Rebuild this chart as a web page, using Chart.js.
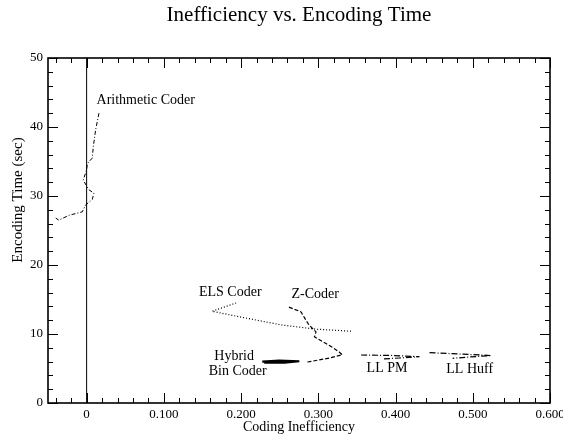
<!DOCTYPE html>
<html>
<head>
<meta charset="utf-8">
<script src="https://cdn.jsdelivr.net/npm/chart.js@4"></script>
<style>
  html, body { margin: 0; padding: 0; background: #fff; }
  #wrap { width: 563px; height: 438px; }
</style>
</head>
<body>
<div id="wrap"><canvas id="c" width="563" height="438"></canvas></div>
<script>
// ---- Data ----
const xTickValues = [0, 0.1, 0.2, 0.3, 0.4, 0.5, 0.6];
const yTickValues = [0, 10, 20, 30, 40, 50];

const arithX = [0.016, 0.0117, 0.0086, 0.0073, 0.001, 0.0, -0.0044, 0.003, 0.0095, 0.0073, -0.0013, -0.0057, -0.023, -0.036, -0.040];
const arithY = [42.0, 39.6, 37.1, 35.5, 34.7, 33.8, 32.3, 30.9, 30.4, 29.5, 28.7, 27.7, 27.2, 26.5, 26.8];

const elsX = [0.1936, 0.178, 0.1625, 0.1975, 0.253, 0.297, 0.343];
const elsY = [14.5, 13.9, 13.3, 12.5, 11.3, 10.7, 10.4];

const zX = [0.262, 0.2776, 0.284, 0.288, 0.297, 0.295, 0.3056, 0.3165, 0.327, 0.331, 0.314, 0.299, 0.284];
const zY = [13.9, 13.2, 12.0, 11.3, 10.3, 9.6, 8.9, 8.2, 7.4, 7.0, 6.5, 6.2, 5.9];

const hybridX = [0.2274, 0.2495, 0.2754, 0.256, 0.2300];
const hybridY = [6.0, 6.15, 6.05, 5.85, 5.85];

const llpmX = [0.3554, 0.3986, 0.431, 0.405, 0.383];
const llpmY = [6.96, 6.88, 6.71, 6.52, 6.38];

const llhuffX = [0.444, 0.483, 0.524, 0.496, 0.474];
const llhuffY = [7.29, 7.10, 6.88, 6.67, 6.48];

const zeroLineX = [0, 0];
const zeroLineY = [0, 50];

const labelTexts = ['Arithmetic Coder', 'ELS Coder', 'Z-Coder', 'Hybrid', 'Bin Coder', 'LL PM', 'LL Huff'];
const labelX = [0.0765, 0.186, 0.296, 0.191, 0.1956, 0.389, 0.496];
const labelY = [43.8, 16.1, 15.8, 6.8, 4.57, 5.07, 4.93];

const titleText = 'Inefficiency vs. Encoding Time';
const xTitleText = 'Coding Inefficiency';
const yTitleText = 'Encoding Time (sec)';

// ---- Helpers ----
const pts = (xs, ys) => xs.map((v, i) => ({ x: v, y: ys[i] }));
const SERIF = '"Liberation Serif", "DejaVu Serif", serif';

function line(data, dash, width) {
  return {
    data: data,
    showLine: true,
    borderColor: '#000',
    backgroundColor: '#000',
    borderWidth: width,
    borderDash: dash,
    pointRadius: 0,
    pointHoverRadius: 0,
    tension: 0,
    fill: false
  };
}

const decor = {
  id: 'decor',
  afterDatasetsDraw(chart) {
    const { ctx, chartArea: a, scales: { x, y } } = chart;
    ctx.save();
    ctx.strokeStyle = '#000';
    ctx.lineWidth = 1;
    // x ticks (major every 0.1, minor every 0.02), inward on bottom and top
    for (let i = -2; i <= 30; i++) {
      const v = i * 0.02;
      const px = Math.round(x.getPixelForValue(v)) + 0.5;
      if (px < a.left || px > a.right + 1) continue;
      const len = (i % 5 === 0) ? 10 : 5;
      ctx.beginPath();
      ctx.moveTo(px, a.bottom); ctx.lineTo(px, a.bottom - len);
      ctx.moveTo(px, a.top); ctx.lineTo(px, a.top + len);
      ctx.stroke();
    }
    // y ticks (major every 10, minor every 2)
    for (let i = 0; i <= 25; i++) {
      const v = i * 2;
      const py = Math.round(y.getPixelForValue(v)) + 0.5;
      const len = (i % 5 === 0) ? 10 : 5;
      ctx.beginPath();
      ctx.moveTo(a.left, py); ctx.lineTo(a.left + len, py);
      ctx.moveTo(a.right, py); ctx.lineTo(a.right - len, py);
      ctx.stroke();
    }
    // frame
    ctx.lineWidth = 1.6;
    ctx.strokeRect(a.left, a.top, a.right - a.left, a.bottom - a.top);
    ctx.restore();
  },
  afterDraw(chart) {
    const { ctx, chartArea: a, scales: { x, y } } = chart;
    ctx.save();
    ctx.fillStyle = '#000';
    ctx.textAlign = 'center';
    ctx.textBaseline = 'middle';
    // annotation labels
    ctx.font = '14px ' + SERIF;
    labelTexts.forEach((t, i) => {
      ctx.fillText(t, x.getPixelForValue(labelX[i]), y.getPixelForValue(labelY[i]));
    });
    // chart title
    ctx.font = '21px ' + SERIF;
    ctx.fillText(titleText, (a.left + a.right) / 2, 15);
    // axis titles
    ctx.font = '14px ' + SERIF;
    ctx.fillText(xTitleText, (a.left + a.right) / 2, 427);
    ctx.font = '15px ' + SERIF;
    ctx.translate(18, 200);
    ctx.rotate(-Math.PI / 2);
    ctx.fillText(yTitleText, 0, 0);
    ctx.restore();
  }
};

new Chart(document.getElementById('c'), {
  type: 'scatter',
  data: {
    datasets: [
      line(pts(zeroLineX, zeroLineY), [], 1),
      line(pts(arithX, arithY), [4, 2, 1, 2], 1),
      line(pts(elsX, elsY), [1, 2], 1.2),
      line(pts(zX, zY), [4, 2], 1.2),
      line(pts(hybridX, hybridY), [], 2.2),
      line(pts(llpmX, llpmY), [6, 2, 1, 2], 1.2),
      line(pts(llhuffX, llhuffY), [6, 2, 1, 2], 1.2)
    ]
  },
  options: {
    responsive: false,
    animation: false,
    devicePixelRatio: 1,
    layout: { padding: { left: 0, right: 13, top: 58, bottom: 0 } },
    plugins: { legend: { display: false }, title: { display: false }, tooltip: { enabled: false } },
    events: [],
    scales: {
      x: {
        type: 'linear',
        min: -0.05,
        max: 0.6,
        grid: { display: false, drawTicks: false },
        border: { display: false },
        afterBuildTicks: (s) => { s.ticks = xTickValues.map(v => ({ value: v })); },
        afterFit: (s) => { s.height = 35; s.paddingLeft = 0; s.paddingRight = 0; },
        ticks: {
          color: '#000',
          padding: 4,
          maxRotation: 0,
          autoSkip: false,
          font: { family: SERIF, size: 13 },
          callback: (v) => (Math.abs(v) < 1e-9 ? '0' : Number(v).toFixed(3))
        }
      },
      y: {
        type: 'linear',
        min: 0,
        max: 50,
        grid: { display: false, drawTicks: false },
        border: { display: false },
        afterBuildTicks: (s) => { s.ticks = yTickValues.map(v => ({ value: v })); },
        afterFit: (s) => { s.width = 48; s.paddingTop = 0; s.paddingBottom = 0; },
        ticks: {
          color: '#000',
          padding: 5,
          autoSkip: false,
          font: { family: SERIF, size: 13 },
          callback: (v) => String(v)
        }
      }
    }
  },
  plugins: [decor]
});
</script>
</body>
</html>
